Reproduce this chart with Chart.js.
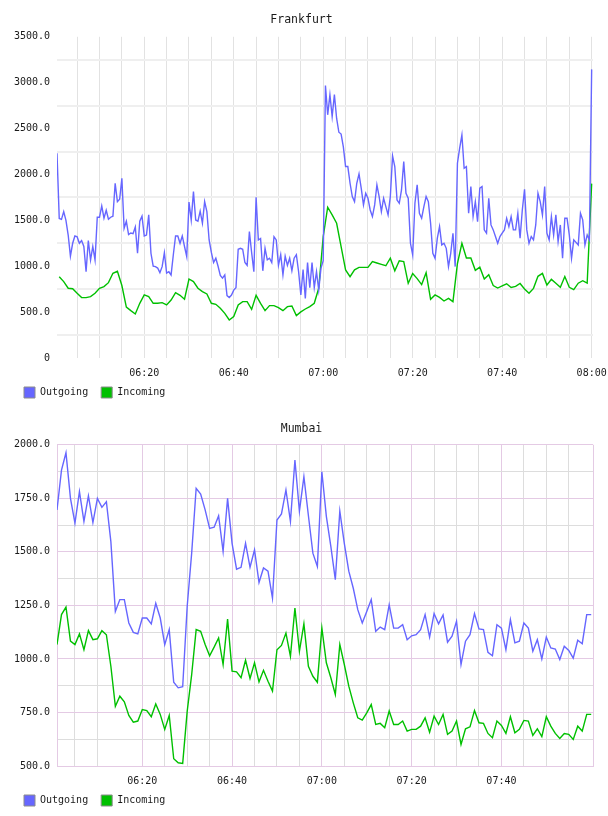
<!DOCTYPE html>
<html>
<head>
<meta charset="utf-8">
<title>Frankfurt / Mumbai</title>
<script src="https://cdn.jsdelivr.net/npm/chart.js@4/dist/chart.umd.min.js"></script>
<style>
  html, body { margin: 0; padding: 0; background: #fff; }
  canvas { display: block; }
</style>
</head>
<body>
<canvas id="frankfurt" width="608" height="408"></canvas>
<canvas id="mumbai" width="608" height="408"></canvas>
<script>
// x values are minutes after 06:00
const timeTicks  = [20, 40, 60, 80, 100, 120];
const timeLabels = ['06:20', '06:40', '07:00', '07:20', '07:40', '08:00'];

// Frankfurt – outgoing sampled every 30 s, incoming every minute
const FRA_OUT_START = 0.5, FRA_OUT_STEP = 0.5;
const fraOutgoing = [
  2230,1520,1510,1595,1500,1340,1110,1250,1330,1320,
  1250,1280,1215,941,1280,1068,1215,1068,1534,1534,
  1657,1523,1610,1512,1534,1545,1904,1704,1730,1959,
  1414,1490,1345,1362,1355,1428,1141,1490,1545,1330,
  1340,1560,1141,1000,995,980,930,995,1148,925,
  940,905,1125,1330,1330,1250,1330,1215,1104,1700,
  1504,1813,1504,1490,1600,1470,1704,1595,1286,1150,
  1040,1087,1000,900,870,905,680,660,686,740,
  766,1185,1195,1185,1040,1010,1377,1150,940,1752,
  1286,1303,950,1195,1070,1087,1040,1322,1286,1010,
  1126,905,1110,1010,1087,950,1087,1126,940,686,
  965,650,1040,766,1040,766,940,741,980,1060,
  2970,2650,2868,2630,2870,2610,2460,2440,2300,2086,
  2086,1904,1759,1704,1904,2006,1849,1668,1795,1741,
  1613,1541,1668,1886,1759,1595,1741,1650,1559,1759,
  2202,2086,1722,1686,1831,2140,1795,1741,1250,1123,
  1686,1886,1577,1523,1650,1759,1704,1468,1141,1086,
  1304,1432,1232,1250,1195,996,1141,1359,996,
  2122,2286,2431,2068,2086,1577,1868,1541,1704,1486,
  1850,1868,1396,1360,1740,1450,1396,1323,1250,1323,
  1360,1396,1522,1432,1540,1396,1396,1577,1305,1613,
  1839,1396,1250,1323,1287,1450,1795,1704,1559,1868,
  1360,1287,1540,1341,1559,1268,1450,1087,1522,1522,
  1341,1087,1287,1260,1232,1577,1505,1232,1341,1287,
  3145
];
const FRA_IN_START = 1, FRA_IN_STEP = 1;
const fraIncoming = [
  886,832,760,755,705,658,658,669,705,760,
  778,821,923,945,790,555,516,480,596,687,
  669,596,596,603,578,632,712,683,640,861,
  832,760,723,698,596,585,542,487,414,451,
  578,614,614,530,683,596,516,571,571,549,
  516,560,567,462,502,534,560,596,760,1322,
  1643,1559,1468,1214,960,886,960,987,987,987,
  1050,1035,1020,1005,1087,950,1060,1050,814,920,
  865,800,930,640,687,660,621,650,614,1030,
  1250,1090,1090,955,990,860,908,790,762,785,
  809,768,780,812,752,705,759,890,922,795,
  857,815,771,888,771,745,815,842,815,1900
];

// Mumbai – both series every minute
const MUM_START = 1, MUM_STEP = 1;
const mumOutgoing = [
  1696,1882,1963,1750,1634,1781,1642,1761,1637,1750,
  1708,1734,1548,1222,1277,1277,1168,1124,1117,1191,
  1191,1164,1260,1191,1067,1137,891,865,870,1245,
  1494,1797,1770,1696,1610,1615,1668,1502,1750,1540,
  1419,1428,1540,1428,1509,1357,1425,1410,1284,1649,
  1677,1789,1642,1929,1690,1851,1670,1494,1432,1874,
  1666,1526,1370,1690,1540,1410,1330,1230,1168,1222,
  1277,1129,1149,1137,1253,1144,1144,1160,1090,1108,
  1113,1137,1207,1102,1212,1164,1205,1078,1106,1176,
  974,1083,1113,1212,1140,1137,1031,1015,1160,1144,
  1043,1183,1075,1083,1168,1144,1036,1090,1000,1102,
  1051,1046,997,1059,1040,1004,1087,1071,1207,1207
];
const mumIncoming = [
  1067,1207,1242,1083,1067,1117,1043,1132,1090,1094,
  1132,1113,966,779,826,800,736,705,710,764,
  759,730,790,741,671,736,534,515,512,755,
  927,1137,1129,1067,1015,1055,1098,974,1186,943,
  940,912,994,909,982,893,947,896,850,1043,
  1063,1121,1012,1237,1036,1164,966,919,891,1145,
  982,912,834,1067,974,873,795,725,714,748,
  787,694,699,679,757,694,694,710,663,671,
  671,686,725,658,733,694,741,648,663,710,
  601,674,683,759,702,699,652,632,710,689,
  652,730,655,671,713,710,643,674,637,730,
  686,652,629,652,648,624,686,663,741,741
];

const MONO = "'DejaVu Sans Mono', monospace";
const COLORS = {
  out:   '#6666ff',
  inc:   '#00c000',
  text:  '#1a1a1a',
  pink:  '#e4cae4',
  gray:  '#dddddd',
  hLine: '#efefef',
  vLine: '#e2e2e2'
};

const toPoints = (vals, start, step) => vals.map((v, i) => ({ x: start + i * step, y: v }));
const every = (from, to, step) => { const a = []; for (let v = from; v <= to; v += step) a.push(v); return a; };

// nudge the legend right so its first swatch lines up at x=24
const legendShift = {
  id: 'legendShift',
  afterLayout(chart) {
    if (chart.legend) { chart.legend.left += 7; chart.legend.right += 7; }
  }
};

function makeChart(id, cfg) {
  const ctx = document.getElementById(id).getContext('2d');
  return new Chart(ctx, {
    type: 'line',
    data: {
      datasets: [
        { label: 'Outgoing', data: cfg.out, borderColor: COLORS.out, backgroundColor: COLORS.out,
          borderWidth: 1.4, pointRadius: 0, tension: 0 },
        { label: 'Incoming', data: cfg.inc, borderColor: COLORS.inc, backgroundColor: COLORS.inc,
          borderWidth: 1.4, pointRadius: 0, tension: 0 }
      ]
    },
    plugins: [legendShift],
    options: {
      responsive: false,
      animation: false,
      layout: { padding: { left: 10, right: 15, top: 0, bottom: 0 } },
      plugins: {
        title: {
          display: true, text: cfg.title, color: COLORS.text,
          font: { family: MONO, size: 11.5, weight: 'normal' },
          padding: { top: cfg.titleTop, bottom: 23 - cfg.titleTop }
        },
        legend: {
          position: 'bottom', align: 'start',
          labels: {
            boxWidth: 11, boxHeight: 11, padding: 7, color: COLORS.text,
            font: { family: MONO, size: 10 },
            // extra trailing space widens the gap between the two entries
            generateLabels: chart => Chart.defaults.plugins.legend.labels.generateLabels(chart)
              .map(l => ({ ...l, text: l.text + ' ', strokeStyle: '#8c8c8c', lineWidth: 1 }))
          }
        },
        tooltip: { enabled: false }
      },
      scales: {
        x: {
          type: 'linear', min: cfg.xMin, max: cfg.xMax,
          afterBuildTicks: s => { s.ticks = cfg.xGrid.map(v => ({ value: v })); },
          afterFit: s => { s.height = 22; s.paddingLeft = 0; s.paddingRight = 0; },
          grid: { color: cfg.xGridColor, lineWidth: 1, drawTicks: false },
          border: cfg.border ? { display: true, color: COLORS.pink } : { display: false },
          ticks: {
            autoSkip: false, maxRotation: 0, padding: 9, color: COLORS.text,
            font: { family: MONO, size: 10 },
            callback: v => {
              const i = timeTicks.indexOf(v);
              return i >= 0 && i < cfg.labelCount ? timeLabels[i] : '';
            }
          }
        },
        y: {
          min: cfg.yMin, max: cfg.yMax,
          afterFit: s => { s.width = 47; s.paddingTop = 0; s.paddingBottom = 0; },
          grid: { color: cfg.yGridColor, lineWidth: cfg.yGridWidth, drawTicks: false },
          border: cfg.border ? { display: true, color: COLORS.pink } : { display: false },
          ticks: {
            stepSize: cfg.yStep, autoSkip: false, padding: 7, color: COLORS.text,
            font: { family: MONO, size: 10 },
            callback: cfg.yLabel
          }
        }
      }
    }
  });
}

makeChart('frankfurt', {
  title: 'Frankfurt', titleTop: 13,
  out: toPoints(fraOutgoing, FRA_OUT_START, FRA_OUT_STEP),
  inc: toPoints(fraIncoming, FRA_IN_START, FRA_IN_STEP),
  xMin: 0.5, xMax: 120.3,
  xGrid: every(5, 120, 5),
  xGridColor: COLORS.vLine,
  labelCount: 6,
  yMin: 0, yMax: 3500, yStep: 250,
  yGridColor: c => (c.tick && c.tick.value % 500 === 0) ? 'rgba(0,0,0,0)' : COLORS.hLine,
  yGridWidth: 2,
  yLabel: v => v % 500 === 0 ? (v === 0 ? '0' : v.toFixed(1)) : '',
  border: false
});

makeChart('mumbai', {
  title: 'Mumbai', titleTop: 14,
  out: toPoints(mumOutgoing, MUM_START, MUM_STEP),
  inc: toPoints(mumIncoming, MUM_START, MUM_STEP),
  xMin: 1, xMax: 120.4,
  xGrid: every(5, 115, 5).concat([120.4]),
  xGridColor: c => {
    const v = c.tick ? c.tick.value : 0;
    if (v === 15) return 'rgba(0,0,0,0)';
    return (v % 20 === 0 || v === 120.4) ? COLORS.pink : COLORS.gray;
  },
  labelCount: 5,
  yMin: 500, yMax: 2000, yStep: 125,
  yGridColor: c => (c.tick && c.tick.value % 250 === 0) ? COLORS.pink : COLORS.gray,
  yGridWidth: 1,
  yLabel: v => v % 250 === 0 ? v.toFixed(1) : '',
  border: true
});
</script>
</body>
</html>
